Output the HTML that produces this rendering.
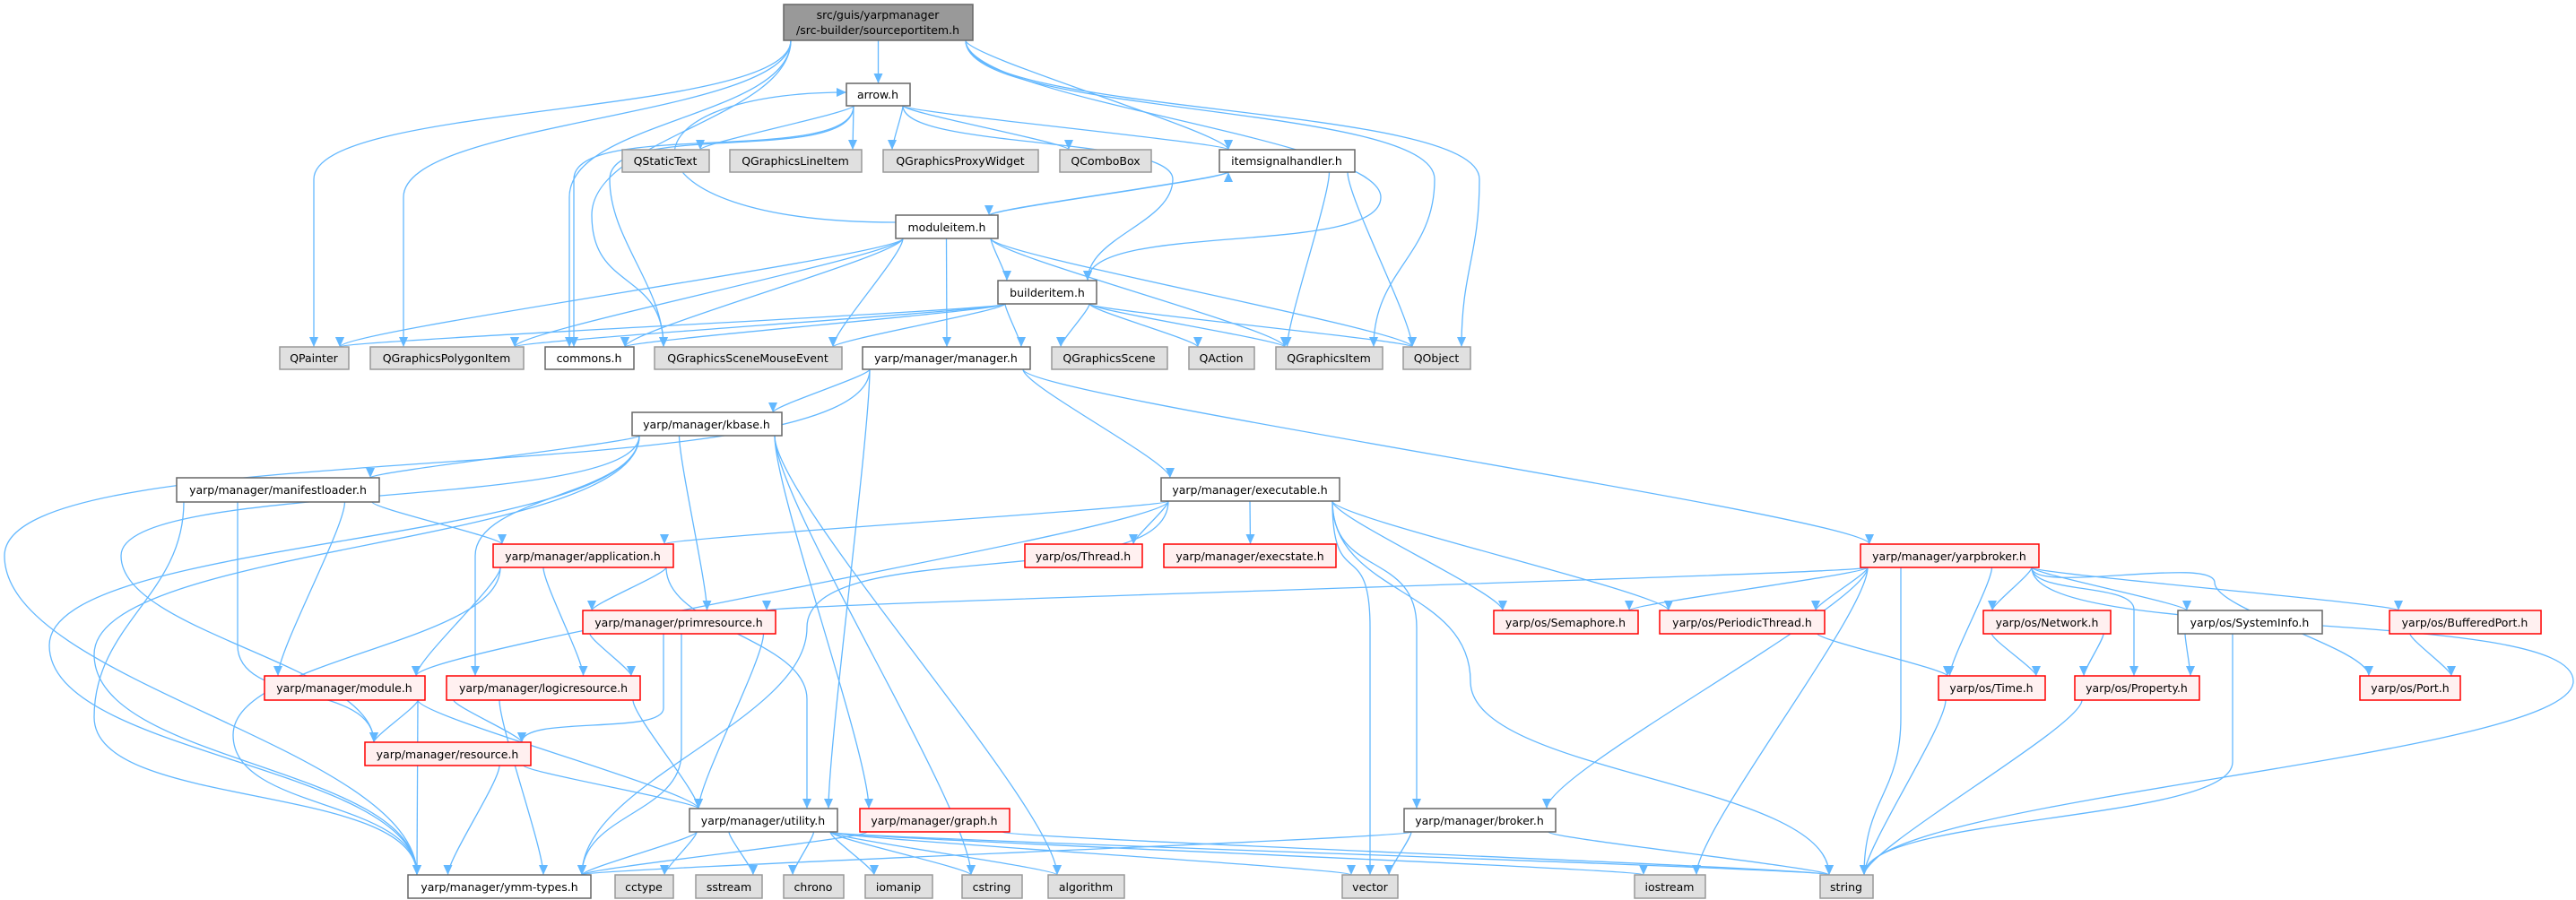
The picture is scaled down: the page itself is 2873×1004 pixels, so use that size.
<!DOCTYPE html>
<html><head><meta charset="utf-8"><style>
html,body{margin:0;padding:0;background:#fff;}
svg{display:block;}
text{font-family:"DejaVu Sans","Liberation Sans",sans-serif;font-size:12.5px;fill:#000;text-anchor:middle;}
.w{fill:#fff;stroke:#666;stroke-width:1.5}
.e{fill:#e0e0e0;stroke:#999;stroke-width:1.5}
.r{fill:#fff0f0;stroke:#f00;stroke-width:1.5}
.g{fill:#999;stroke:#666;stroke-width:1.5}
#edges path{fill:none;stroke:#63b8ff;stroke-width:1.3}
</style></head><body>
<svg id="s" width="2873" height="1004" viewBox="0 0 2873 1004" xmlns="http://www.w3.org/2000/svg">
<defs><marker id="a" markerUnits="userSpaceOnUse" markerWidth="12" markerHeight="10" refX="11" refY="5" orient="auto"><path d="M0,0 L11,5 L0,10 z" fill="#63b8ff"/></marker></defs>
<g id="edges"></g>
<g id="nodes">
<rect class="g" x="874" y="5" width="211" height="40"/><text x="979" y="21">src/guis/yarpmanager</text><text x="979" y="38">/src-builder/sourceportitem.h</text>
<rect class="w" x="944" y="93" width="71" height="25"/><text x="979" y="110">arrow.h</text>
<rect class="e" x="694" y="167" width="97" height="25"/><text x="742" y="184">QStaticText</text>
<rect class="e" x="814" y="167" width="147" height="25"/><text x="887" y="184">QGraphicsLineItem</text>
<rect class="e" x="985" y="167" width="173" height="25"/><text x="1071" y="184">QGraphicsProxyWidget</text>
<rect class="e" x="1182" y="167" width="102" height="25"/><text x="1233" y="184">QComboBox</text>
<rect class="w" x="1360" y="167" width="151" height="25"/><text x="1435" y="184">itemsignalhandler.h</text>
<rect class="w" x="999" y="240" width="114" height="26"/><text x="1056" y="258">moduleitem.h</text>
<rect class="w" x="1113" y="313" width="110" height="26"/><text x="1168" y="331">builderitem.h</text>
<rect class="e" x="312" y="387" width="77" height="25"/><text x="350" y="404">QPainter</text>
<rect class="e" x="413" y="387" width="171" height="25"/><text x="498" y="404">QGraphicsPolygonItem</text>
<rect class="w" x="608" y="387" width="99" height="25"/><text x="657" y="404">commons.h</text>
<rect class="e" x="730" y="387" width="209" height="25"/><text x="834" y="404">QGraphicsSceneMouseEvent</text>
<rect class="w" x="962" y="387" width="187" height="25"/><text x="1055" y="404">yarp/manager/manager.h</text>
<rect class="e" x="1173" y="387" width="129" height="25"/><text x="1237" y="404">QGraphicsScene</text>
<rect class="e" x="1326" y="387" width="73" height="25"/><text x="1362" y="404">QAction</text>
<rect class="e" x="1423" y="387" width="119" height="25"/><text x="1482" y="404">QGraphicsItem</text>
<rect class="e" x="1565" y="387" width="75" height="25"/><text x="1602" y="404">QObject</text>
<rect class="w" x="705" y="460" width="167" height="26"/><text x="788" y="478">yarp/manager/kbase.h</text>
<rect class="w" x="197" y="533" width="226" height="27"/><text x="310" y="551">yarp/manager/manifestloader.h</text>
<rect class="w" x="1295" y="533" width="199" height="26"/><text x="1394" y="551">yarp/manager/executable.h</text>
<rect class="r" x="550" y="607" width="201" height="26"/><text x="650" y="625">yarp/manager/application.h</text>
<rect class="r" x="1143" y="607" width="131" height="26"/><text x="1208" y="625">yarp/os/Thread.h</text>
<rect class="r" x="1298" y="607" width="192" height="26"/><text x="1394" y="625">yarp/manager/execstate.h</text>
<rect class="r" x="2075" y="607" width="199" height="26"/><text x="2174" y="625">yarp/manager/yarpbroker.h</text>
<rect class="r" x="650" y="681" width="215" height="26"/><text x="757" y="699">yarp/manager/primresource.h</text>
<rect class="r" x="1666" y="681" width="161" height="26"/><text x="1746" y="699">yarp/os/Semaphore.h</text>
<rect class="r" x="1851" y="681" width="184" height="26"/><text x="1943" y="699">yarp/os/PeriodicThread.h</text>
<rect class="r" x="2212" y="681" width="142" height="26"/><text x="2283" y="699">yarp/os/Network.h</text>
<rect class="w" x="2429" y="681" width="161" height="26"/><text x="2509" y="699">yarp/os/SystemInfo.h</text>
<rect class="r" x="2665" y="681" width="169" height="26"/><text x="2749" y="699">yarp/os/BufferedPort.h</text>
<rect class="r" x="295" y="754" width="179" height="27"/><text x="384" y="772">yarp/manager/module.h</text>
<rect class="r" x="498" y="754" width="216" height="27"/><text x="606" y="772">yarp/manager/logicresource.h</text>
<rect class="r" x="2162" y="754" width="119" height="27"/><text x="2221" y="772">yarp/os/Time.h</text>
<rect class="r" x="2314" y="754" width="139" height="27"/><text x="2383" y="772">yarp/os/Property.h</text>
<rect class="r" x="2632" y="754" width="112" height="27"/><text x="2688" y="772">yarp/os/Port.h</text>
<rect class="r" x="407" y="828" width="185" height="26"/><text x="499" y="846">yarp/manager/resource.h</text>
<rect class="w" x="769" y="902" width="165" height="26"/><text x="851" y="920">yarp/manager/utility.h</text>
<rect class="r" x="959" y="902" width="167" height="26"/><text x="1042" y="920">yarp/manager/graph.h</text>
<rect class="w" x="1566" y="902" width="169" height="26"/><text x="1650" y="920">yarp/manager/broker.h</text>
<rect class="w" x="455" y="976" width="204" height="26"/><text x="557" y="994">yarp/manager/ymm-types.h</text>
<rect class="e" x="686" y="976" width="65" height="26"/><text x="718" y="994">cctype</text>
<rect class="e" x="776" y="976" width="74" height="26"/><text x="813" y="994">sstream</text>
<rect class="e" x="874" y="976" width="67" height="26"/><text x="907" y="994">chrono</text>
<rect class="e" x="965" y="976" width="75" height="26"/><text x="1002" y="994">iomanip</text>
<rect class="e" x="1073" y="976" width="67" height="26"/><text x="1106" y="994">cstring</text>
<rect class="e" x="1169" y="976" width="85" height="26"/><text x="1211" y="994">algorithm</text>
<rect class="e" x="1497" y="976" width="62" height="26"/><text x="1528" y="994">vector</text>
<rect class="e" x="1823" y="976" width="79" height="26"/><text x="1862" y="994">iostream</text>
<rect class="e" x="2030" y="976" width="59" height="26"/><text x="2059" y="994">string</text>
</g>
</svg>
<script>
var N={root:[874,5,1085,45],arrow:[944,93,1015,118],qst:[694,167,791,192],qgli:[814,167,961,192],qgpw:[985,167,1158,192],qcb:[1182,167,1284,192],ish:[1360,167,1511,192],mod:[999,240,1113,266],bi:[1113,313,1223,339],
qp:[312,387,389,412],qgpi:[413,387,584,412],com:[608,387,707,412],qgsme:[730,387,939,412],mgr:[962,387,1149,412],qgs:[1173,387,1302,412],qa:[1326,387,1399,412],qgi:[1423,387,1542,412],qo:[1565,387,1640,412],
kb:[705,460,872,486],ml:[197,533,423,560],ex:[1295,533,1494,559],app:[550,607,751,633],thr:[1143,607,1274,633],est:[1298,607,1490,633],yb:[2075,607,2274,633],
prim:[650,681,865,707],sem:[1666,681,1827,707],pt:[1851,681,2035,707],net:[2212,681,2354,707],si:[2429,681,2590,707],bp:[2665,681,2834,707],
modh:[295,754,474,781],lr:[498,754,714,781],time:[2162,754,2281,781],prop:[2314,754,2453,781],port:[2632,754,2744,781],res:[407,828,592,854],
ut:[769,902,934,928],gr:[959,902,1126,928],br:[1566,902,1735,928],ymm:[455,976,659,1002],cct:[686,976,751,1002],sst:[776,976,850,1002],chr:[874,976,941,1002],iom:[965,976,1040,1002],cstr:[1073,976,1140,1002],alg:[1169,976,1254,1002],vec:[1497,976,1559,1002],ios:[1823,976,1902,1002],str:[2030,976,2089,1002]};
var E=[["root","arrow"],["root","ish"],["root","bi",[1540,220]],["root","qgi",[1600,200]],["root","qo",[1650,200]],["root","qp",[350,200]],["root","qgpi",[450,220]],["root","com",[635,220]],["root","qgsme",[660,240]],
["arrow","qst"],["arrow","qgli"],["arrow","qgpw"],["arrow","qcb"],["arrow","ish"],["arrow","bi",[1308,200]],["arrow","com",[640,200]],["arrow","qgsme",[680,200]],
["ish","mod"],["ish","qgi"],["ish","qo"],["mod","ish"],["mod","arrow",[680,190]],["mod","bi"],["mod","mgr"],["mod","qp"],["mod","qgpi"],["mod","com"],["mod","qgsme"],["mod","qgi"],["mod","qo"],
["bi","qp"],["bi","qgpi"],["bi","com"],["bi","qgsme"],["bi","mgr"],["bi","qgs"],["bi","qa"],["bi","qgi"],["bi","qo"],
["mgr","kb"],["mgr","ex"],["mgr","yb"],["mgr","ut"],["mgr","ymm",[5,620]],
["kb","ml"],["kb","ymm",[55,720]],["kb","ymm",[105,730]],["kb","res",[135,620]],["kb","lr",[530,620]],["kb","prim"],["kb","gr"],["kb","cstr"],["kb","alg"],
["ml","app"],["ml","modh"],["ml","res",[265,720]],["ml","ymm",[105,800]],
["app","prim"],["app","modh"],["app","lr"],["app","ut",[900,780]],["app","ymm",[260,820]],
["prim","lr"],["prim","res",[740,790]],["prim","ut"],["prim","ymm",[760,840]],
["modh","res"],["modh","ut"],["modh","ymm"],["lr","res"],["lr","ut"],["lr","ymm"],["res","ut"],["res","ymm"],
["ut","ymm"],["ut","cct"],["ut","sst"],["ut","chr"],["ut","iom"],["ut","cstr"],["ut","alg"],["ut","vec"],["ut","ios"],["ut","str"],
["gr","str"],["gr","ymm"],
["ex","app"],["ex","modh"],["ex","ymm",[900,700]],["ex","thr"],["ex","est"],["ex","vec",[1528,700]],["ex","sem"],["ex","pt"],["ex","br",[1580,700]],["ex","str",[1640,760]],
["yb","prim"],["yb","sem"],["yb","pt"],["yb","net"],["yb","si"],["yb","bp"],["yb","port",[2470,650]],["yb","time"],["yb","prop",[2380,680]],["yb","br"],["yb","ios"],["yb","str",[2120,800]],["yb","str",[2870,760]],
["br","ymm"],["br","vec"],["br","str"],["pt","time"],["net","time"],["net","prop"],["si","prop"],["si","str",[2490,850]],["bp","port"],["time","str"],["prop","str"]];
function cl(v,a,b){return Math.max(a,Math.min(b,v));}
var g=document.getElementById("edges"),h="";
E.forEach(function(e){var s=N[e[0]],t=N[e[1]],sx,sy,tx,ty,d;
var scx=(s[0]+s[2])/2,tcx=(t[0]+t[2])/2;
if(t[1]>s[3]){sx=cl(e[2]?e[2][0]:tcx,s[0]+8,s[2]-8);sy=s[3];tx=cl(e[2]?e[2][0]:scx,t[0]+10,t[2]-10);ty=t[1];}
else if(t[3]<s[1]){sx=cl(tcx,s[0]+8,s[2]-8);sy=s[1];tx=cl(scx,t[0]+10,t[2]-10);ty=t[3];}
else{if(tcx<scx){sx=s[0];tx=t[2];}else{sx=s[2];tx=t[0];}sy=(s[1]+s[3])/2+4;ty=(t[1]+t[3])/2;}
if(e[2]){var vx=e[2][0],vy=e[2][1],k=(ty-sy)/4;
if(e[1]=="arrow"){sx=s[0];sy=s[1]+8;tx=t[0];ty=t[1]+10;d="M"+sx+","+sy+" C"+vx+","+sy+" "+vx+","+ty+" "+tx+","+ty;}
else d="M"+sx+","+sy+" C"+sx+","+(sy+k)+" "+vx+","+(vy-k)+" "+vx+","+vy+" S"+tx+","+(ty-k)+" "+tx+","+ty;}
else{var m=(ty-sy)/2;if(Math.abs(ty-sy)<5){d="M"+sx+","+sy+" L"+tx+","+ty;}else d="M"+sx+","+sy+" C"+sx+","+(sy+m*0.3)+" "+tx+","+(ty-m*0.3)+" "+tx+","+ty;}
h+='<path d="'+d+'" marker-end="url(#a)"/>';});
g.innerHTML=h;
</script>
</body></html>
